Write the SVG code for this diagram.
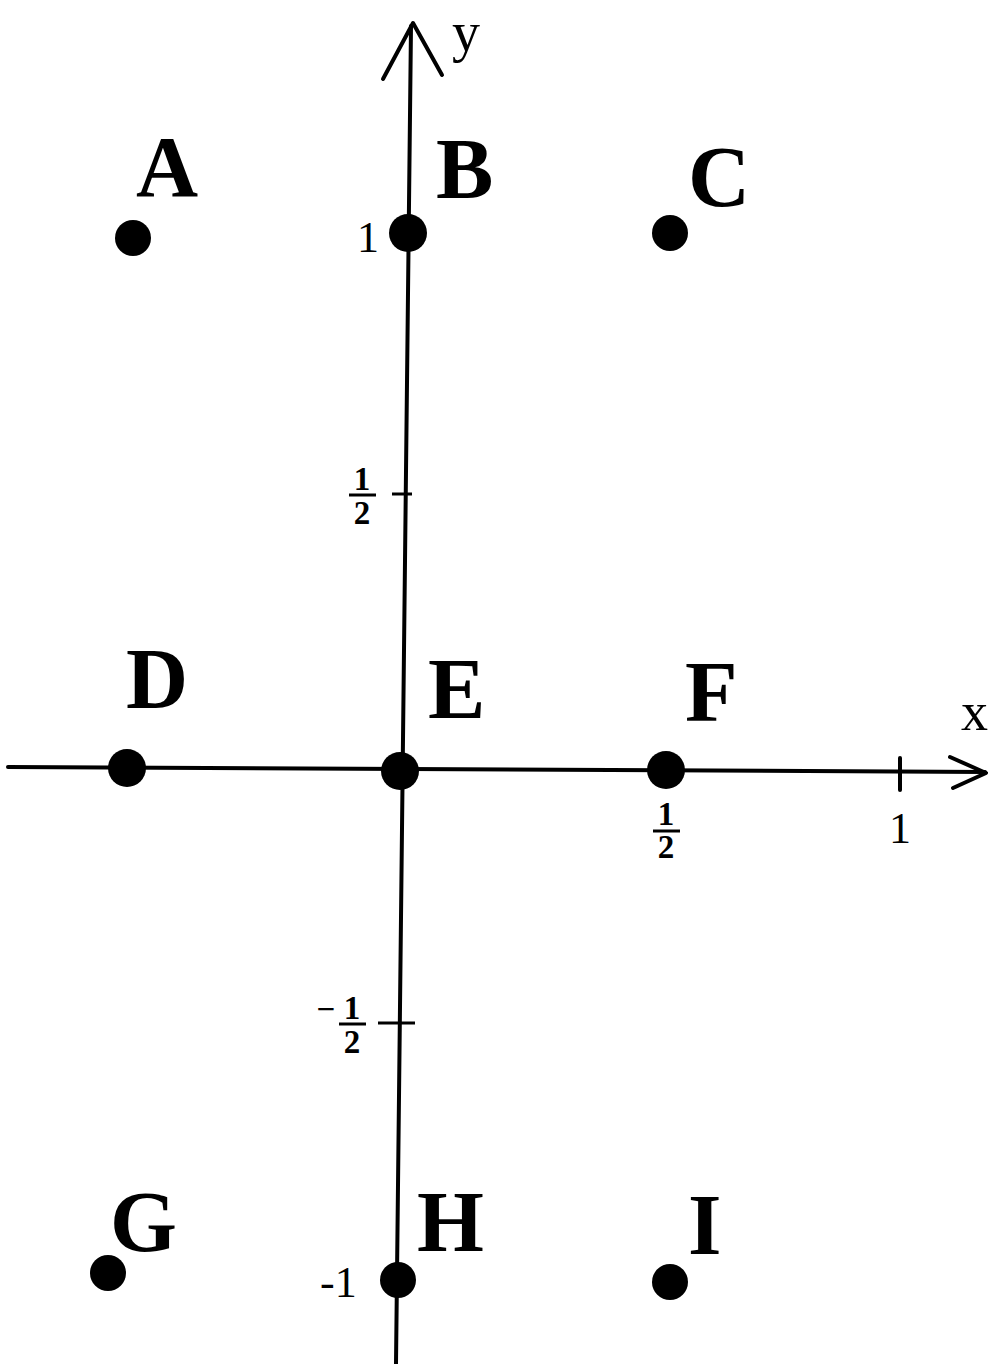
<svg xmlns="http://www.w3.org/2000/svg" width="988" height="1364" viewBox="0 0 988 1364">
<style>
.ax{stroke:#000;stroke-width:4;fill:none;stroke-linecap:round;stroke-linejoin:round}
.tk{stroke:#000;stroke-width:3;fill:none}
.pt{fill:#000}
.lbl{font-family:"Liberation Serif","Times New Roman",serif;font-weight:bold;font-size:86px;fill:#000}
.num{font-family:"Liberation Serif","Times New Roman",serif;font-size:44px;fill:#000}
.fr{font-family:"Liberation Serif","Times New Roman",serif;font-weight:bold;font-size:33px;fill:#000;text-anchor:middle}
</style>
<rect width="988" height="1364" fill="#fff"/>
<g id="connectors">
<path class="ax" d="M411,26 L396,1364"/>
<path class="ax" d="M383,79 L413,23 L442,75"/>
<path class="ax" d="M8,767 L985,772"/>
<path class="ax" d="M950,757 L986,773 L953,788"/>
<path class="ax" d="M900,758 L900,790"/>
<path class="tk" d="M392,494 L412,494"/>
<path class="tk" d="M378,1023 L415,1023"/>
</g>
<g id="axis-labels">
<text class="num" x="452" y="51" style="font-size:56px">y</text>
<text class="num" x="961" y="730" style="font-size:54px">x</text>
<text class="num" x="889" y="843">1</text>
<text class="num" x="357" y="252">1</text>
<text class="num" x="320" y="1297">-1</text>
<text class="fr" x="362" y="490">1</text>
<line class="tk" x1="349" y1="495" x2="376" y2="495"/>
<text class="fr" x="362" y="524">2</text>
<text class="fr" x="326" y="1020">−</text>
<text class="fr" x="352" y="1019">1</text>
<line class="tk" x1="339" y1="1024" x2="366" y2="1024"/>
<text class="fr" x="352" y="1053">2</text>
<text class="fr" x="666" y="825">1</text>
<line class="tk" x1="653" y1="831" x2="680" y2="831"/>
<text class="fr" x="666" y="858">2</text>
</g>
<g id="A"><circle class="pt" cx="133" cy="238" r="18"/><text class="lbl" x="136" y="196">A</text></g>
<g id="B"><circle class="pt" cx="408" cy="233" r="19"/><text class="lbl" x="436" y="198">B</text></g>
<g id="C"><circle class="pt" cx="670" cy="233" r="18"/><text class="lbl" x="688" y="206">C</text></g>
<g id="D"><circle class="pt" cx="127" cy="768" r="19"/><text class="lbl" x="126" y="708">D</text></g>
<g id="E"><circle class="pt" cx="400" cy="771" r="19"/><text class="lbl" x="428" y="718">E</text></g>
<g id="F"><circle class="pt" cx="666" cy="770" r="19"/><text class="lbl" x="685" y="721">F</text></g>
<g id="G"><circle class="pt" cx="108" cy="1273" r="18"/><text class="lbl" x="110" y="1251">G</text></g>
<g id="H"><circle class="pt" cx="398" cy="1280" r="18"/><text class="lbl" x="417" y="1251">H</text></g>
<g id="I"><circle class="pt" cx="670" cy="1282" r="18"/><text class="lbl" x="688" y="1254">I</text></g>
</svg>
